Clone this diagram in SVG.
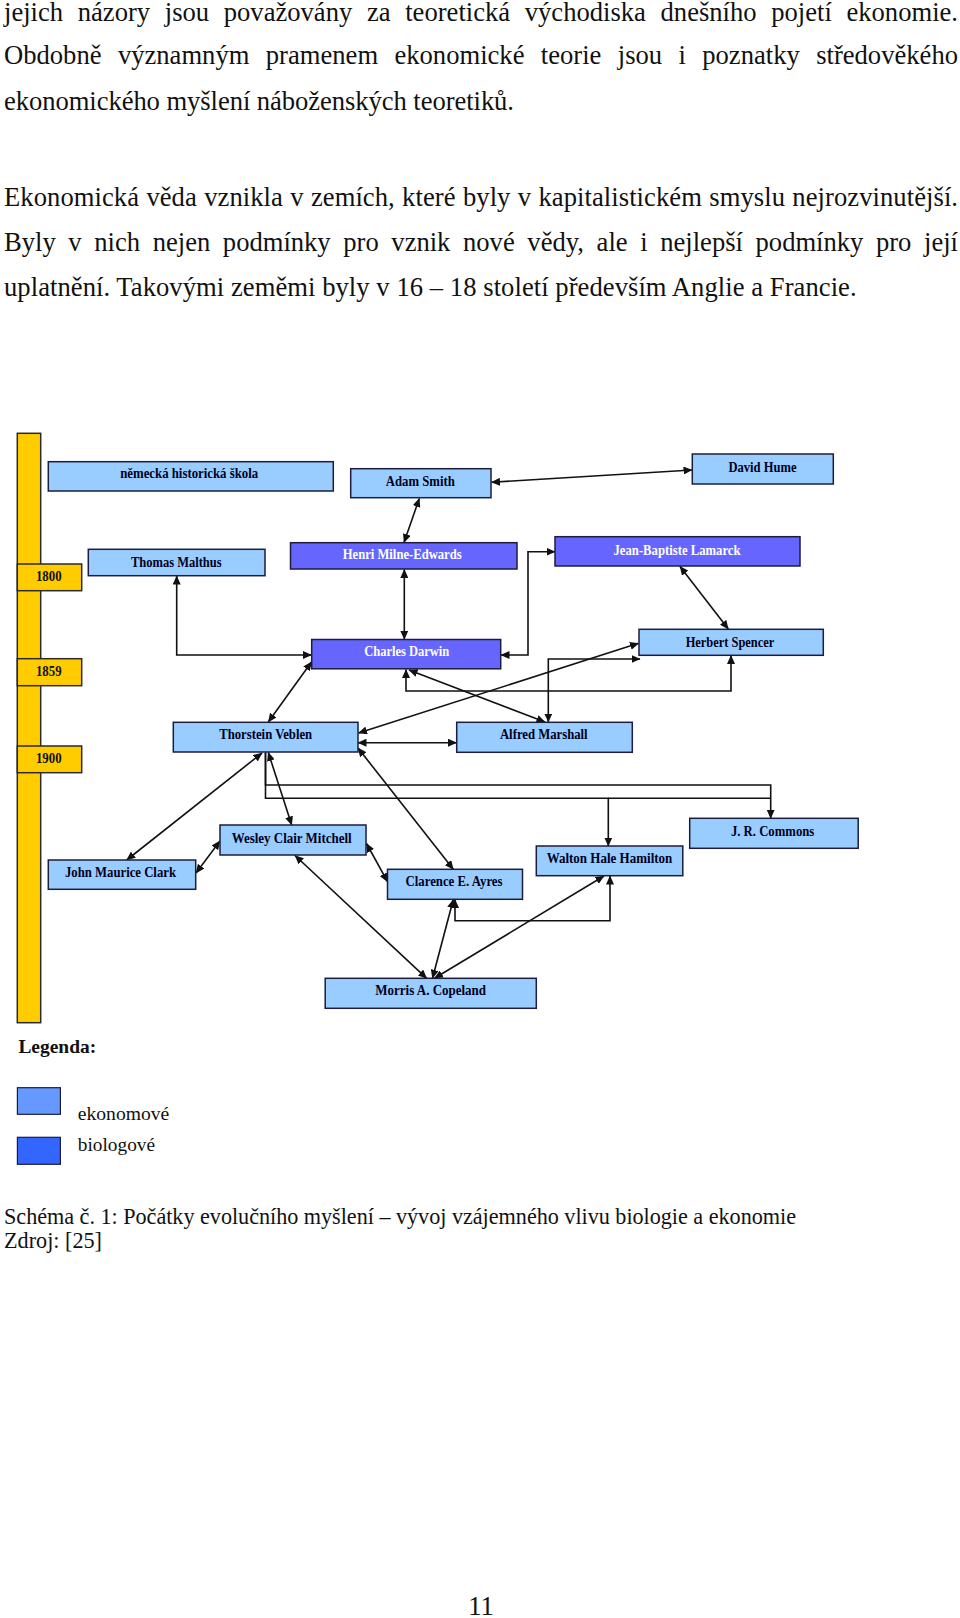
<svg xmlns="http://www.w3.org/2000/svg" width="960" height="1618" viewBox="0 0 960 1618">
<style>
.body{font-family:"Liberation Serif","Times New Roman",serif;font-size:26.6px;fill:#111;}
.cap{font-family:"Liberation Serif","Times New Roman",serif;font-size:22.2px;fill:#111;}
.eco{fill:#99CCFF;stroke:#1c1c3c;stroke-width:1.5;}
.bio{fill:#6666FF;stroke:#1c1c3c;stroke-width:1.5;}
.lbl{font-family:"Liberation Serif","Times New Roman",serif;font-size:14px;font-weight:bold;fill:#000022;text-anchor:middle;}
.wl{fill:#ffffff;}
.yel{fill:#FFCC00;stroke:#2a2a2a;stroke-width:1.5;}
.yr{font-family:"Liberation Serif","Times New Roman",serif;font-size:14px;font-weight:bold;fill:#111;text-anchor:middle;}
.c{fill:none;stroke:#111;stroke-width:1.6;}
.a2{marker-start:url(#ah);marker-end:url(#ah);}
.a1{marker-end:url(#ah);}
.leg{font-family:"Liberation Serif","Times New Roman",serif;font-size:19.5px;fill:#111;}
</style>
<defs>
<marker id="ah" markerUnits="userSpaceOnUse" markerWidth="9" markerHeight="8" refX="8.5" refY="4" orient="auto-start-reverse" viewBox="0 0 9 8">
<path d="M0,0 L9,4 L0,8 z" fill="#111"/>
</marker>
</defs>
<rect width="960" height="1618" fill="#ffffff"/>

<g id="text-top">
<text class="body" x="4" y="21" textLength="954" lengthAdjust="spacing" word-spacing="8">jejich názory jsou považovány za teoretická východiska dnešního pojetí ekonomie.</text>
<text class="body" x="4" y="64" textLength="954" lengthAdjust="spacing" word-spacing="9.7">Obdobně významným pramenem ekonomické teorie jsou i poznatky středověkého</text>
<text class="body" x="4" y="109.5" textLength="510" lengthAdjust="spacing">ekonomického myšlení náboženských teoretiků.</text>
<text class="body" x="4" y="206" textLength="954" lengthAdjust="spacing" word-spacing="0.6">Ekonomická věda vznikla v zemích, které byly v kapitalistickém smyslu nejrozvinutější.</text>
<text class="body" x="4" y="251" textLength="954" lengthAdjust="spacing" word-spacing="6">Byly v nich nejen podmínky pro vznik nové vědy, ale i nejlepší podmínky pro její</text>
<text class="body" x="4" y="295.5" textLength="852.6" lengthAdjust="spacing">uplatnění. Takovými zeměmi byly v 16 – 18 století především Anglie a Francie.</text>
</g>

<g id="timeline">
<rect class="yel" x="17.3" y="433.3" width="23.4" height="589.4"/>
<g id="y1800"><rect class="yel" x="17.3" y="564" width="64.4" height="26.7"/><text class="yr" x="48.8" y="581" textLength="25.7" lengthAdjust="spacingAndGlyphs">1800</text></g>
<g id="y1859"><rect class="yel" x="17.3" y="658.7" width="64.4" height="27"/><text class="yr" x="48.8" y="676" textLength="25.7" lengthAdjust="spacingAndGlyphs">1859</text></g>
<g id="y1900"><rect class="yel" x="17.3" y="746" width="64.4" height="26.7"/><text class="yr" x="48.8" y="762.7" textLength="25.7" lengthAdjust="spacingAndGlyphs">1900</text></g>
</g>

<g id="connectors">
<path class="c a2" d="M491.5,482.3 L692,470"/>
<path class="c a2" d="M419.3,498.5 L404,542.5"/>
<path class="c a2" d="M404.3,569.5 L404.3,639.3"/>
<path class="c a2" d="M176.7,576 L176.7,655 L311.5,655"/>
<path class="c a2" d="M501,655 L528,655 L528,551.7 L555,551.7"/>
<path class="c a2" d="M680,566.5 L728.3,629"/>
<path class="c a2" d="M311.5,662 L268.3,722"/>
<path class="c a2" d="M406,669.5 L406,691 L731,691 L731,655.5"/>
<path class="c a2" d="M409,670 L545,722"/>
<path class="c a2" d="M358.5,733 L638.5,643.3"/>
<path class="c a2" d="M548.3,722 L548.3,659 L640,659"/>
<path class="c a2" d="M358,742.7 L456.5,742.7"/>
<path class="c a1" d="M265.5,752.5 L265.5,785 L770.7,785 L770.7,818.3"/>
<path class="c a1" d="M265.5,752.5 L265.5,798.3 L608.3,798.3 L608.3,846"/>
<path class="c" d="M608.3,798.3 L770.7,798.3"/>
<path class="c a2" d="M268.3,752.5 L291.7,825"/>
<path class="c a2" d="M262,753 L126.7,860"/>
<path class="c a2" d="M358,748 L453.3,869.3"/>
<path class="c a2" d="M196,873 L220,841"/>
<path class="c a2" d="M366.5,843.5 L387.5,881.7"/>
<path class="c a2" d="M295,855.5 L426.7,978.3"/>
<path class="c a2" d="M453.3,899.5 L432.5,978.3"/>
<path class="c a2" d="M604,876 L434.5,978.3"/>
<path class="c a2" d="M455,899.5 L455,920.7 L610,920.7 L610,876"/>
</g>

<g id="n-nemecka"><rect class="eco" x="48.3" y="461.7" width="285" height="29.3"/><text class="lbl" x="189.2" y="478.3" textLength="138" lengthAdjust="spacingAndGlyphs">německá historická škola</text></g>
<g id="n-smith"><rect class="eco" x="350.7" y="468.7" width="140.3" height="29"/><text class="lbl" x="420.3" y="486" textLength="69" lengthAdjust="spacingAndGlyphs">Adam Smith</text></g>
<g id="n-hume"><rect class="eco" x="692.3" y="454" width="141" height="30"/><text class="lbl" x="762.5" y="472.3" textLength="68" lengthAdjust="spacingAndGlyphs">David Hume</text></g>
<g id="n-malthus"><rect class="eco" x="88.3" y="549.3" width="176.7" height="26.4"/><text class="lbl" x="176.3" y="566.7" textLength="90.7" lengthAdjust="spacingAndGlyphs">Thomas Malthus</text></g>
<g id="n-milne"><rect class="bio" x="290.5" y="542.7" width="226.5" height="26.3"/><text class="lbl wl" x="402.2" y="559.3" textLength="119" lengthAdjust="spacingAndGlyphs">Henri Milne-Edwards</text></g>
<g id="n-darwin"><rect class="bio" x="311.7" y="639.5" width="189" height="29.3"/><text class="lbl wl" x="406.7" y="656" textLength="85" lengthAdjust="spacingAndGlyphs">Charles Darwin</text></g>
<g id="n-lamarck"><rect class="bio" x="555" y="536.7" width="245" height="29.3"/><text class="lbl wl" x="677" y="555" textLength="127" lengthAdjust="spacingAndGlyphs">Jean-Baptiste Lamarck</text></g>
<g id="n-spencer"><rect class="eco" x="639" y="629.3" width="184.3" height="26"/><text class="lbl" x="730" y="646.7" textLength="88.7" lengthAdjust="spacingAndGlyphs">Herbert Spencer</text></g>
<g id="n-veblen"><rect class="eco" x="173.3" y="722.3" width="184.7" height="29.7"/><text class="lbl" x="265.7" y="739.3" textLength="93" lengthAdjust="spacingAndGlyphs">Thorstein Veblen</text></g>
<g id="n-marshall"><rect class="eco" x="456.7" y="722.3" width="175.6" height="30"/><text class="lbl" x="543.8" y="739.3" textLength="87.7" lengthAdjust="spacingAndGlyphs">Alfred Marshall</text></g>
<g id="n-mitchell"><rect class="eco" x="220" y="825" width="146" height="30"/><text class="lbl" x="291.7" y="842.7" textLength="120" lengthAdjust="spacingAndGlyphs">Wesley Clair Mitchell</text></g>
<g id="n-clark"><rect class="eco" x="48.3" y="860" width="147.4" height="29.3"/><text class="lbl" x="120.5" y="877.3" textLength="111" lengthAdjust="spacingAndGlyphs">John Maurice Clark</text></g>
<g id="n-ayres"><rect class="eco" x="387.5" y="869.3" width="135" height="30"/><text class="lbl" x="454" y="886" textLength="97" lengthAdjust="spacingAndGlyphs">Clarence E. Ayres</text></g>
<g id="n-hamilton"><rect class="eco" x="536.3" y="846" width="146.5" height="29.7"/><text class="lbl" x="609.5" y="863.3" textLength="125.7" lengthAdjust="spacingAndGlyphs">Walton Hale Hamilton</text></g>
<g id="n-commons"><rect class="eco" x="689.7" y="818.3" width="168.5" height="30"/><text class="lbl" x="772.6" y="836" textLength="83.4" lengthAdjust="spacingAndGlyphs">J. R. Commons</text></g>
<g id="n-copeland"><rect class="eco" x="325.2" y="978.3" width="211.1" height="30"/><text class="lbl" x="430.7" y="995" textLength="110.7" lengthAdjust="spacingAndGlyphs">Morris A. Copeland</text></g>

<g id="legend">
<text class="leg" x="18.4" y="1053.3" font-weight="bold" textLength="77.8" lengthAdjust="spacingAndGlyphs">Legenda:</text>
<rect x="17.4" y="1087.7" width="43" height="26.6" fill="#6699FF" stroke="#1c1c3c" stroke-width="1.2"/>
<text class="leg" x="77.8" y="1120" textLength="91.5" lengthAdjust="spacingAndGlyphs">ekonomové</text>
<rect x="17.4" y="1137.3" width="43" height="27" fill="#3366FF" stroke="#1c1c3c" stroke-width="1.2"/>
<text class="leg" x="77.8" y="1151" textLength="77.3" lengthAdjust="spacingAndGlyphs">biologové</text>
</g>

<g id="caption">
<text class="cap" x="4" y="1224.3" textLength="792" lengthAdjust="spacing">Schéma č. 1: Počátky evolučního myšlení – vývoj vzájemného vlivu biologie a ekonomie</text>
<text class="cap" x="4" y="1247.5">Zdroj: [25]</text>
</g>

<g id="page-number">
<text class="body" x="481" y="1615" text-anchor="middle">11</text>
</g>
</svg>
